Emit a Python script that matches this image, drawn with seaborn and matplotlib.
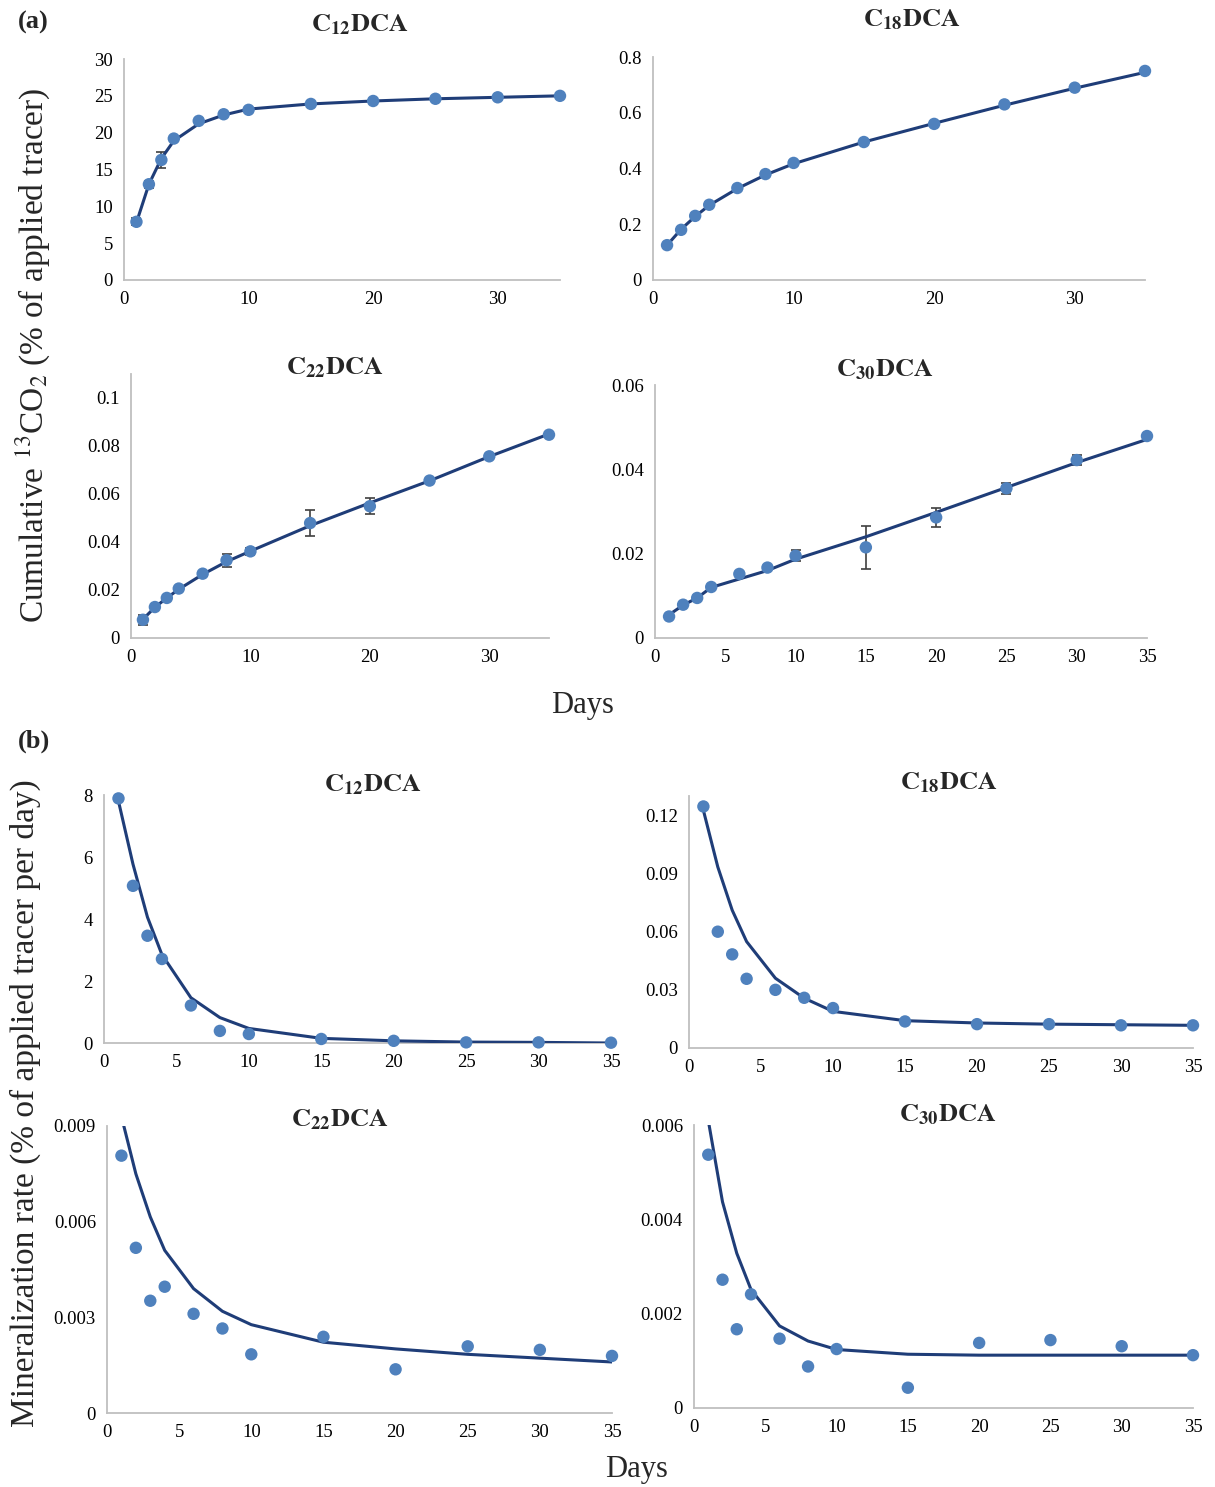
import numpy as np
import pandas as pd
import matplotlib
matplotlib.use('Agg')
import matplotlib.pyplot as plt
import seaborn as sns

# sampling days
days = [1, 2, 3, 4, 6, 8, 10, 15, 20, 25, 30, 35]

# (a) cumulative 13CO2, measured, sd and fitted model
c12_cum = [7.9, 13.0, 16.3, 19.2, 21.6, 22.5, 23.1, 23.9, 24.3, 24.6, 24.8, 25.0]
c12_cum_sd = [0.5, 0.5, 1.1, 0.3, 0.2, 0.2, 0.2, 0.1, 0.1, 0.1, 0.1, 0.1]
c12_cum_fit = [7.8, 13.0, 16.5, 18.9, 21.2, 22.4, 23.2, 23.9, 24.3, 24.6, 24.8, 25.0]

c18_cum = [0.125, 0.18, 0.23, 0.27, 0.33, 0.38, 0.42, 0.495, 0.56, 0.63, 0.69, 0.75]
c18_cum_sd = [0.005, 0.004, 0.004, 0.004, 0.004, 0.004, 0.004, 0.004, 0.004, 0.004, 0.004, 0.004]
c18_cum_fit = [0.125, 0.182, 0.228, 0.268, 0.328, 0.377, 0.417, 0.495, 0.562, 0.627, 0.688, 0.745]

c22_cum = [0.0076, 0.0129, 0.0167, 0.0206, 0.0268, 0.0324, 0.0361, 0.0479, 0.0549, 0.0656, 0.0757, 0.0847]
c22_cum_sd = [0.002, 0.0008, 0.001, 0.0008, 0.0008, 0.0027, 0.0015, 0.0055, 0.0033, 0.0008, 0.0006, 0.0005]
c22_cum_fit = [0.0078, 0.0128, 0.0167, 0.0203, 0.0265, 0.0318, 0.0362, 0.0468, 0.0563, 0.0655, 0.0756, 0.0850]

c30_cum = [0.0051, 0.0079, 0.0095, 0.0121, 0.0152, 0.0167, 0.0195, 0.0215, 0.0286, 0.0355, 0.0422, 0.0479]
c30_cum_sd = [0.0004, 0.0004, 0.0004, 0.0004, 0.0004, 0.0004, 0.0013, 0.0051, 0.0022, 0.0013, 0.0012, 0.0004]
c30_cum_fit = [0.0055, 0.0078, 0.0095, 0.0120, 0.0140, 0.0160, 0.0187, 0.0240, 0.0298, 0.0357, 0.0416, 0.0471]

# (b) mineralization rate, measured and fitted model
c12_rate = [7.89, 5.07, 3.46, 2.71, 1.21, 0.39, 0.29, 0.13, 0.07, 0.02, 0.02, 0.01]
c12_rate_fit = [7.8, 5.77, 4.06, 2.85, 1.46, 0.82, 0.47, 0.15, 0.07, 0.03, 0.02, 0.0]

c18_rate = [0.1246, 0.060, 0.0483, 0.0357, 0.030, 0.0259, 0.0206, 0.0137, 0.0123, 0.0123, 0.0117, 0.0117]
c18_rate_fit = [0.1226, 0.0934, 0.0711, 0.0549, 0.036, 0.0257, 0.0189, 0.0141, 0.0129, 0.0123, 0.012, 0.0117]

c22_rate = [0.00807, 0.00518, 0.00352, 0.00396, 0.00311, 0.00265, 0.00184, 0.00239, 0.00137, 0.00209, 0.00198, 0.00179]
c22_rate_fit = [0.0093, 0.0075, 0.00615, 0.0051, 0.0039, 0.00319, 0.00277, 0.00222, 0.00201, 0.00184, 0.00172, 0.0016]

c30_rate = [0.00537, 0.00272, 0.00167, 0.00241, 0.00147, 0.00088, 0.00125, 0.00043, 0.00138, 0.00144, 0.00131, 0.00112]
c30_rate_fit = [0.0061, 0.00437, 0.00328, 0.00251, 0.00174, 0.00142, 0.00124, 0.00114, 0.00112, 0.00112, 0.00112, 0.00112]

sns.set_style('white')
plt.rcParams['font.family'] = ['Liberation Serif', 'DejaVu Serif']
plt.rcParams['mathtext.fontset'] = 'stix'

W, H = 1215, 1487
fig = plt.figure(figsize=(W / 100, H / 100), dpi=100)

point_c = '#4F81BD'
line_c = '#1F3D78'
axis_c = '#BFBFBF'


def box(x0, x1, ytop, ybot):
    return [x0 / W, 1 - ybot / H, (x1 - x0) / W, (ybot - ytop) / H]


panels = [
    # number, meas, sd, fit, rect, ylim, yticks, ylabels, xticks, title position
    ('12', c12_cum, c12_cum_sd, c12_cum_fit, box(124, 560, 59, 280), (0, 30),
     [0, 5, 10, 15, 20, 25, 30], None, [0, 10, 20, 30], (360, 25)),
    ('18', c18_cum, c18_cum_sd, c18_cum_fit, box(653, 1145, 57, 280), (0, 0.8),
     [0, 0.2, 0.4, 0.6, 0.8], ['0', '0.2', '0.4', '0.6', '0.8'], [0, 10, 20, 30], (912, 20)),
    ('22', c22_cum, c22_cum_sd, c22_cum_fit, box(131, 549, 374, 638), (0, 0.11),
     [0, 0.02, 0.04, 0.06, 0.08, 0.1], ['0', '0.02', '0.04', '0.06', '0.08', '0.1'], [0, 10, 20, 30], (335, 368)),
    ('30', c30_cum, c30_cum_sd, c30_cum_fit, box(655, 1147, 385, 638), (0, 0.06),
     [0, 0.02, 0.04, 0.06], ['0', '0.02', '0.04', '0.06'], [0, 5, 10, 15, 20, 25, 30, 35], (885, 370)),
    ('12', c12_rate, None, c12_rate_fit, box(104, 611, 795, 1043), (0, 8),
     [0, 2, 4, 6, 8], None, [0, 5, 10, 15, 20, 25, 30, 35], (373, 785)),
    ('18', c18_rate, None, c18_rate_fit, box(689, 1193, 796, 1048), (0, 0.13),
     [0, 0.03, 0.06, 0.09, 0.12], ['0', '0.03', '0.06', '0.09', '0.12'], [0, 5, 10, 15, 20, 25, 30, 35], (949, 783)),
    ('22', c22_rate, None, c22_rate_fit, box(107, 612, 1126, 1413), (0, 0.009),
     [0, 0.003, 0.006, 0.009], ['0', '0.003', '0.006', '0.009'], [0, 5, 10, 15, 20, 25, 30, 35], (340, 1120)),
    ('30', c30_rate, None, c30_rate_fit, box(694, 1193, 1125, 1408), (0, 0.006),
     [0, 0.002, 0.004, 0.006], ['0', '0.002', '0.004', '0.006'], [0, 5, 10, 15, 20, 25, 30, 35], (948, 1115)),
]

for n, meas, sd, fit, rect, ylim, yticks, ylabels, xticks, tpos in panels:
    ax = fig.add_axes(rect)
    df = pd.DataFrame({'day': days, 'meas': meas, 'fit': fit})
    if sd is not None:
        ax.errorbar(df['day'], df['meas'], yerr=sd, fmt='none', ecolor='#404040',
                    elinewidth=1.2, capsize=3.5, capthick=1.2, zorder=2)
    sns.lineplot(data=df, x='day', y='fit', ax=ax, color=line_c, linewidth=2.2, zorder=3)
    sns.scatterplot(data=df, x='day', y='meas', ax=ax, color=point_c, s=80,
                    edgecolor='none', zorder=4, clip_on=False)
    ax.set_xlim(0, 35)
    ax.set_ylim(*ylim)
    ax.set_yticks(yticks)
    if ylabels is not None:
        ax.set_yticklabels(ylabels)
    ax.set_xticks(xticks)
    ax.set_xlabel('')
    ax.set_ylabel('')
    for s in ['top', 'right']:
        ax.spines[s].set_visible(False)
    for s in ['left', 'bottom']:
        ax.spines[s].set_color(axis_c)
        ax.spines[s].set_linewidth(1.3)
    ax.tick_params(axis='both', length=0, labelsize=13.5, pad=8, colors='black')
    fig.text(tpos[0] / W, 1 - tpos[1] / H, r'$\mathbf{C_{%s}DCA}$' % n,
             ha='center', va='center', fontsize=19)

fig.text(18 / W, 1 - 22 / H, '(a)', fontsize=19, fontweight='bold', va='center')
fig.text(18 / W, 1 - 741 / H, '(b)', fontsize=19, fontweight='bold', va='center')
fig.text(33 / W, 1 - 355 / H, r'Cumulative $^{13}$CO$_2$ (% of applied tracer)',
         rotation=90, ha='center', va='center', fontsize=24)
fig.text(25 / W, 1 - 1103 / H, 'Mineralization rate (% of applied tracer per day)',
         rotation=90, ha='center', va='center', fontsize=24)
fig.text(582 / W, 1 - 706 / H, 'Days', ha='center', va='center', fontsize=22)
fig.text(637 / W, 1 - 1470 / H, 'Days', ha='center', va='center', fontsize=22)

fig.savefig('out.png', dpi=100)
